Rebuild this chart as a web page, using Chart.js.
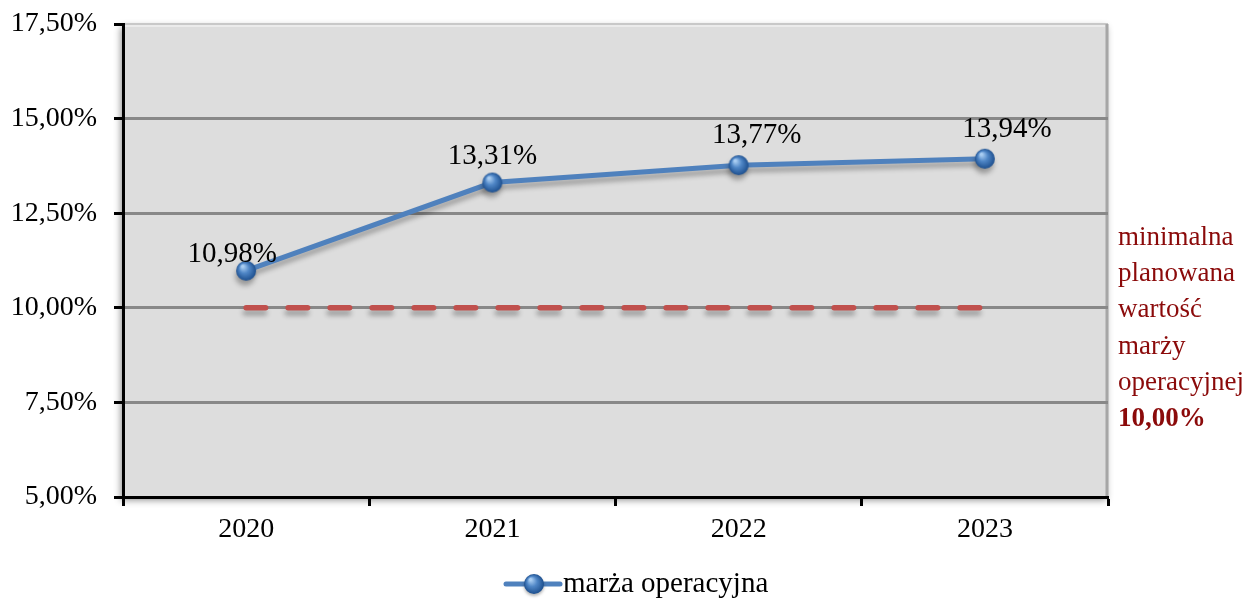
<!DOCTYPE html>
<html>
<head>
<meta charset="utf-8">
<script src="https://cdn.jsdelivr.net/npm/chart.js@4.4.1/dist/chart.umd.min.js"></script>
<style>
html,body{margin:0;padding:0;background:#fff;}
#wrap{width:1245px;height:599px;position:relative;}
</style>
</head>
<body>
<div id="wrap"><canvas id="c" width="1245" height="599"></canvas></div>
<script>
// ---- data ----
const categories = ['2020', '2021', '2022', '2023'];
const marzaOperacyjna = [10.98, 13.31, 13.77, 13.94];
const minimalnaPlanowana = [10, 10, 10, 10];
const seriesName = 'marża operacyjna';
const thresholdNoteLines = ['minimalna', 'planowana', 'wartość', 'marży', 'operacyjnej'];
const thresholdValue = 10;
const yMin = 5, yMax = 17.5, yStep = 2.5;

const FONT = "'Liberation Serif', 'Times New Roman', serif";
const fmt = v => v.toFixed(2).replace('.', ',') + '%';

function makeSphere(r) {
  const c = document.createElement('canvas');
  const s = r * 2 + 2;
  c.width = s; c.height = s;
  const g = c.getContext('2d');
  const cx = s / 2, cy = s / 2;
  const grad = g.createRadialGradient(cx - r * 0.35, cy - r * 0.45, r * 0.1, cx, cy, r);
  grad.addColorStop(0, '#a9cdf2');
  grad.addColorStop(0.45, '#4f86c6');
  grad.addColorStop(1, '#1d4f8e');
  g.fillStyle = grad;
  g.beginPath(); g.arc(cx, cy, r, 0, Math.PI * 2); g.fill();
  return c;
}
const sphere = makeSphere(10);

const plotBg = {
  id: 'plotBg',
  beforeDraw(chart) {
    const {ctx, chartArea: a} = chart;
    ctx.save();
    ctx.shadowColor = 'rgba(0,0,0,0.45)';
    ctx.shadowBlur = 7;
    ctx.shadowOffsetX = -2;
    ctx.shadowOffsetY = 3;
    ctx.fillStyle = '#dddddd';
    ctx.fillRect(a.left, a.top, a.right - a.left, a.bottom - a.top);
    ctx.restore();
    ctx.save();
    ctx.strokeStyle = '#c8c8c8';
    ctx.lineWidth = 2;
    ctx.beginPath(); ctx.moveTo(a.left, a.top); ctx.lineTo(a.right, a.top); ctx.stroke();
    ctx.strokeStyle = '#ebebeb';
    ctx.lineWidth = 2;
    ctx.beginPath(); ctx.moveTo(a.left, a.top + 2); ctx.lineTo(a.right - 3, a.top + 2); ctx.stroke();
    ctx.strokeStyle = '#a6a6a6';
    ctx.lineWidth = 3;
    ctx.beginPath(); ctx.moveTo(a.right - 1, a.top); ctx.lineTo(a.right - 1, a.bottom); ctx.stroke();
    ctx.restore();
  }
};

const shadowPlugin = {
  id: 'dsShadow',
  beforeDatasetsDraw(chart) {
    const ctx = chart.ctx;
    ctx.save();
    ctx.shadowColor = 'rgba(0,0,0,0.3)';
    ctx.shadowBlur = 5;
    ctx.shadowOffsetX = -1;
    ctx.shadowOffsetY = 5;
  },
  afterDatasetsDraw(chart) {
    chart.ctx.restore();
  }
};

const valueLabels = {
  id: 'valueLabels',
  afterDatasetsDraw(chart, args, opts) {
    const {ctx} = chart;
    const meta = chart.getDatasetMeta(0);
    ctx.save();
    ctx.font = '29px ' + FONT;
    ctx.fillStyle = '#000';
    ctx.textAlign = 'center';
    ctx.textBaseline = 'middle';
    meta.data.forEach((pt, i) => {
      const off = opts.offsets[i] || [0, -28];
      ctx.fillText(fmt(marzaOperacyjna[i]), pt.x + off[0], pt.y + off[1]);
    });
    ctx.restore();
  }
};

const sideNote = {
  id: 'sideNote',
  afterDraw(chart) {
    const {ctx, chartArea: a} = chart;
    const y0 = chart.scales.y.getPixelForValue(thresholdValue);
    const lh = 36.3;
    const x = a.right + 10;
    ctx.save();
    ctx.fillStyle = '#8b0a0a';
    ctx.textAlign = 'left';
    ctx.textBaseline = 'middle';
    ctx.font = '27px ' + FONT;
    const startY = y0 - 2 * lh + 2.5;
    thresholdNoteLines.forEach((t, i) => ctx.fillText(t, x, startY + i * lh));
    ctx.font = 'bold 27px ' + FONT;
    ctx.fillText(fmt(thresholdValue), x, startY + 5 * lh);
    ctx.restore();
  }
};

const customLegend = {
  id: 'customLegend',
  afterDraw(chart) {
    const {ctx, chartArea: a} = chart;
    const ds = chart.data.datasets[0];
    const y = a.bottom + 87;
    const x0 = 504;
    ctx.save();
    ctx.strokeStyle = ds.borderColor;
    ctx.lineWidth = 5;
    ctx.lineCap = 'round';
    ctx.beginPath(); ctx.moveTo(x0 + 2, y); ctx.lineTo(x0 + 56, y); ctx.stroke();
    ctx.shadowColor = 'rgba(0,0,0,0.3)';
    ctx.shadowBlur = 3; ctx.shadowOffsetY = 2;
    ctx.drawImage(sphere, x0 + 30 - 11, y - 11);
    ctx.shadowColor = 'transparent';
    ctx.font = '29px ' + FONT;
    ctx.fillStyle = '#000';
    ctx.textAlign = 'left';
    ctx.textBaseline = 'middle';
    ctx.fillText(ds.label, x0 + 59, y);
    ctx.restore();
  }
};

new Chart(document.getElementById('c'), {
  type: 'line',
  data: {
    labels: categories,
    datasets: [
      {
        label: seriesName,
        data: marzaOperacyjna,
        borderColor: '#4f81bd',
        backgroundColor: '#4f81bd',
        borderWidth: 5,
        pointStyle: sphere,
        pointRadius: 10,
        pointHoverRadius: 10,
        tension: 0
      },
      {
        label: 'min',
        data: minimalnaPlanowana,
        borderColor: '#c0504d',
        borderWidth: 5.5,
        borderDash: [19.5, 22.5],
        borderCapStyle: 'round',
        pointRadius: 0,
        pointHoverRadius: 0,
        fill: false
      }
    ]
  },
  options: {
    responsive: false,
    animation: false,
    events: [],
    layout: { padding: { top: 24, right: 137, left: 0, bottom: 0 } },
    scales: {
      x: {
        offset: true,
        grid: { display: true, offset: true, drawOnChartArea: false, drawTicks: true, tickLength: 9, tickColor: '#000', tickWidth: 3 },
        border: { color: '#000', width: 3 },
        ticks: { color: '#000', font: { family: FONT, size: 28 }, padding: 7 },
        afterFit(s) { s.height = 102; s.paddingLeft = 0; s.paddingRight = 0; }
      },
      y: {
        min: yMin, max: yMax,
        grid: {
          color: c => (c.tick && c.tick.value === yMax) ? 'rgba(0,0,0,0)' : '#888888',
          lineWidth: 3, tickLength: 9, tickColor: '#000', tickWidth: 3
        },
        border: { color: '#000', width: 3 },
        ticks: { stepSize: yStep, color: '#000', font: { family: FONT, size: 28 }, padding: 17, callback: v => fmt(v) },
        afterFit(s) { s.width = 123; s.paddingTop = 0; s.paddingBottom = 0; }
      }
    },
    plugins: {
      legend: { display: false },
      tooltip: { enabled: false },
      valueLabels: { offsets: [[-14, -16], [0, -26], [18, -30], [22, -29]] }
    }
  },
  plugins: [plotBg, shadowPlugin, valueLabels, sideNote, customLegend]
});
</script>
</body>
</html>
